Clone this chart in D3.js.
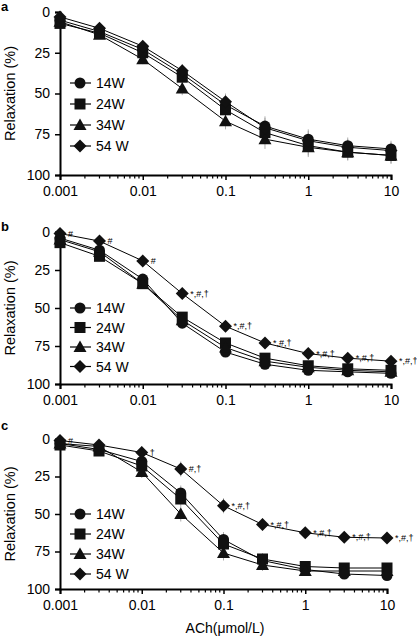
<!DOCTYPE html>
<html><head><meta charset="utf-8">
<script src="https://cdn.jsdelivr.net/npm/d3@7"></script>
<style>body{margin:0;background:#fff}svg{display:block}text{font-family:"Liberation Sans",Arial,sans-serif}</style>
</head><body>
<svg id="chart" width="417" height="639"></svg>
<script>
const concentrations = [0.001, 0.003, 0.01, 0.03, 0.1, 0.3, 1, 3, 10];
const groups = ["14W", "24W", "34W", "54 W"];
const xTickLabels = ["0.001", "0.01", "0.1", "1", "10"];
const yTicks = [0, 25, 50, 75, 100];

// Panel a
const a14 = [5, 12, 23, 38, 57, 70, 78, 82, 84];
const a24 = [7, 13, 25, 40, 60, 74, 82, 86, 88];
const a34 = [6, 14, 29, 47, 67, 78, 83, 86, 88];
const a54 = [3, 10, 21, 36, 55, 71, 79, 83, 85];
const aErr = [2, 2, 3, 4, 5, 6, 6, 5, 5];
const aNotes = ["", "", "", "", "", "", "", "", ""];

// Panel b
const b14 = [4, 12, 31, 60, 79, 87, 91, 92, 93];
const b24 = [7, 16, 34, 56, 73, 83, 88, 90, 91];
const b34 = [5, 13, 34, 58, 76, 85, 89, 91, 92];
const b54 = [1, 6, 19, 40.5, 62, 73, 80, 83, 85];
const bErr = [2, 2, 3, 3, 3, 3, 2, 2, 2];
const bNotes = ["#", "#", "#", "*,#,†", "*,#,†", "*,#,†", "*,#,†", "*,#,†", "*,#,†"];

// Panel c
const c14 = [3, 7, 15, 36, 67, 81, 87, 90, 91];
const c24 = [4, 8, 18, 40, 70, 80, 85, 86, 86];
const c34 = [3, 5, 22, 50, 76, 84, 88, 88, 88];
const c54 = [1, 4, 9, 20, 44.5, 57, 62.5, 65.5, 66];
const cErr = [2, 2, 4, 5, 5, 4, 2, 2, 2];
const cNotes = ["#", "", "†", "#,†", "*,#,†", "*,#,†", "*,#,†", "*,#,†", "*,#,†"];

const svg = d3.select("#chart");
const shapes = ["circle", "square", "triangle", "diamond"];

function marker(g, shape, x, y) {
  if (shape === "circle") g.append("circle").attr("cx", x).attr("cy", y).attr("r", 5.5);
  else if (shape === "square") g.append("rect").attr("x", x - 5.5).attr("y", y - 5.5).attr("width", 11).attr("height", 11);
  else if (shape === "triangle") g.append("path").attr("d", `M${x},${y-6.5}L${x+6.5},${y+5}L${x-6.5},${y+5}Z`);
  else g.append("path").attr("d", `M${x},${y-6.5}L${x+6.5},${y}L${x},${y+6.5}L${x-6.5},${y}Z`);
}

function panel(opt) {
  const {label, labelY, top, bottom, right, series, err, notes, legendY, legendGap, xTitle} = opt;
  const left = 60;
  const x = d3.scaleLog().domain([0.001, 10]).range([left, right]);
  const y = d3.scaleLinear().domain([0, 100]).range([top, bottom]);
  const g = svg.append("g");

  g.append("text").attr("x", 1).attr("y", labelY).attr("font-size", 13).attr("font-weight", "bold").text(label);

  // y axis
  const ya = g.append("g").attr("transform", `translate(${left},0)`)
    .call(d3.axisLeft(y).tickValues(yTicks).tickSize(5).tickPadding(5));
  ya.select(".domain").attr("stroke-width", 2);
  ya.selectAll(".tick line").attr("stroke-width", 1.5);
  ya.selectAll("text").attr("font-size", 14).attr("font-family", "Liberation Sans, Arial, sans-serif").attr("fill", "#000");

  // x axis major
  const xa = g.append("g").attr("transform", `translate(0,${bottom})`)
    .call(d3.axisBottom(x).tickValues([0.001, 0.01, 0.1, 1, 10]).tickFormat((d, i) => xTickLabels[i]).tickSize(5).tickPadding(6));
  xa.select(".domain").attr("stroke-width", 2);
  xa.selectAll(".tick line").attr("stroke-width", 1.5);
  xa.selectAll("text").attr("font-size", 14).attr("font-family", "Liberation Sans, Arial, sans-serif").attr("fill", "#000");
  // minor ticks
  const minors = [];
  [0.001, 0.01, 0.1, 1].forEach(d => { for (let k = 2; k <= 9; k++) minors.push(d * k); });
  g.append("g").selectAll("line").data(minors).join("line")
    .attr("x1", d => x(d)).attr("x2", d => x(d)).attr("y1", bottom).attr("y2", bottom + 3.5)
    .attr("stroke", "#000").attr("stroke-width", 1.2);

  g.append("text").attr("transform", `translate(15,${(top + bottom) / 2}) rotate(-90)`)
    .attr("text-anchor", "middle").attr("font-size", 14.5).text("Relaxation (%)");

  if (xTitle) g.append("text").attr("x", 225).attr("y", bottom + 44).attr("text-anchor", "middle").attr("font-size", 14).text(xTitle);

  // error bars
  series.forEach((s, si) => {
    g.append("g").selectAll("line").data(s).join("line")
      .attr("x1", (d, i) => x(concentrations[i])).attr("x2", (d, i) => x(concentrations[i]))
      .attr("y1", (d, i) => y(d - err[i])).attr("y2", (d, i) => y(d + err[i]))
      .attr("stroke", "#999").attr("stroke-width", 0.8);
  });
  // lines
  const line = d3.line().x((d, i) => x(concentrations[i])).y(d => y(d));
  series.forEach(s => {
    g.append("path").datum(s).attr("d", line).attr("fill", "none").attr("stroke", "#000").attr("stroke-width", 1);
  });
  // markers
  series.forEach((s, si) => {
    const mg = g.append("g").attr("fill", "#111");
    s.forEach((d, i) => marker(mg, shapes[si], x(concentrations[i]), y(d)));
  });
  // notes next to 54 W
  const s54 = series[3];
  g.append("g").selectAll("text").data(notes).join("text")
    .attr("x", (d, i) => x(concentrations[i]) + 8).attr("y", (d, i) => y(s54[i]) + 3)
    .attr("font-size", 9).text(d => d);

  // legend
  groups.forEach((name, i) => {
    const ly = legendY + i * legendGap;
    const lg = g.append("g").attr("fill", "#111");
    lg.append("line").attr("x1", 70).attr("x2", 91).attr("y1", ly).attr("y2", ly).attr("stroke", "#000").attr("stroke-width", 1.2);
    marker(lg, shapes[i], 80, ly);
    g.append("text").attr("x", 96).attr("y", ly + 5).attr("font-size", 14).text(name);
  });
}

panel({label: "a", labelY: 11, top: 12, bottom: 175, right: 391, series: [a14, a24, a34, a54], err: aErr, notes: aNotes, legendY: 83, legendGap: 21});
panel({label: "b", labelY: 231, top: 232, bottom: 384, right: 391, series: [b14, b24, b34, b54], err: bErr, notes: bNotes, legendY: 308, legendGap: 19.5});
panel({label: "c", labelY: 430, top: 439, bottom: 589, right: 387, series: [c14, c24, c34, c54], err: cErr, notes: cNotes, legendY: 514, legendGap: 20, xTitle: "ACh(μmol/L)"});
</script>
</body></html>
